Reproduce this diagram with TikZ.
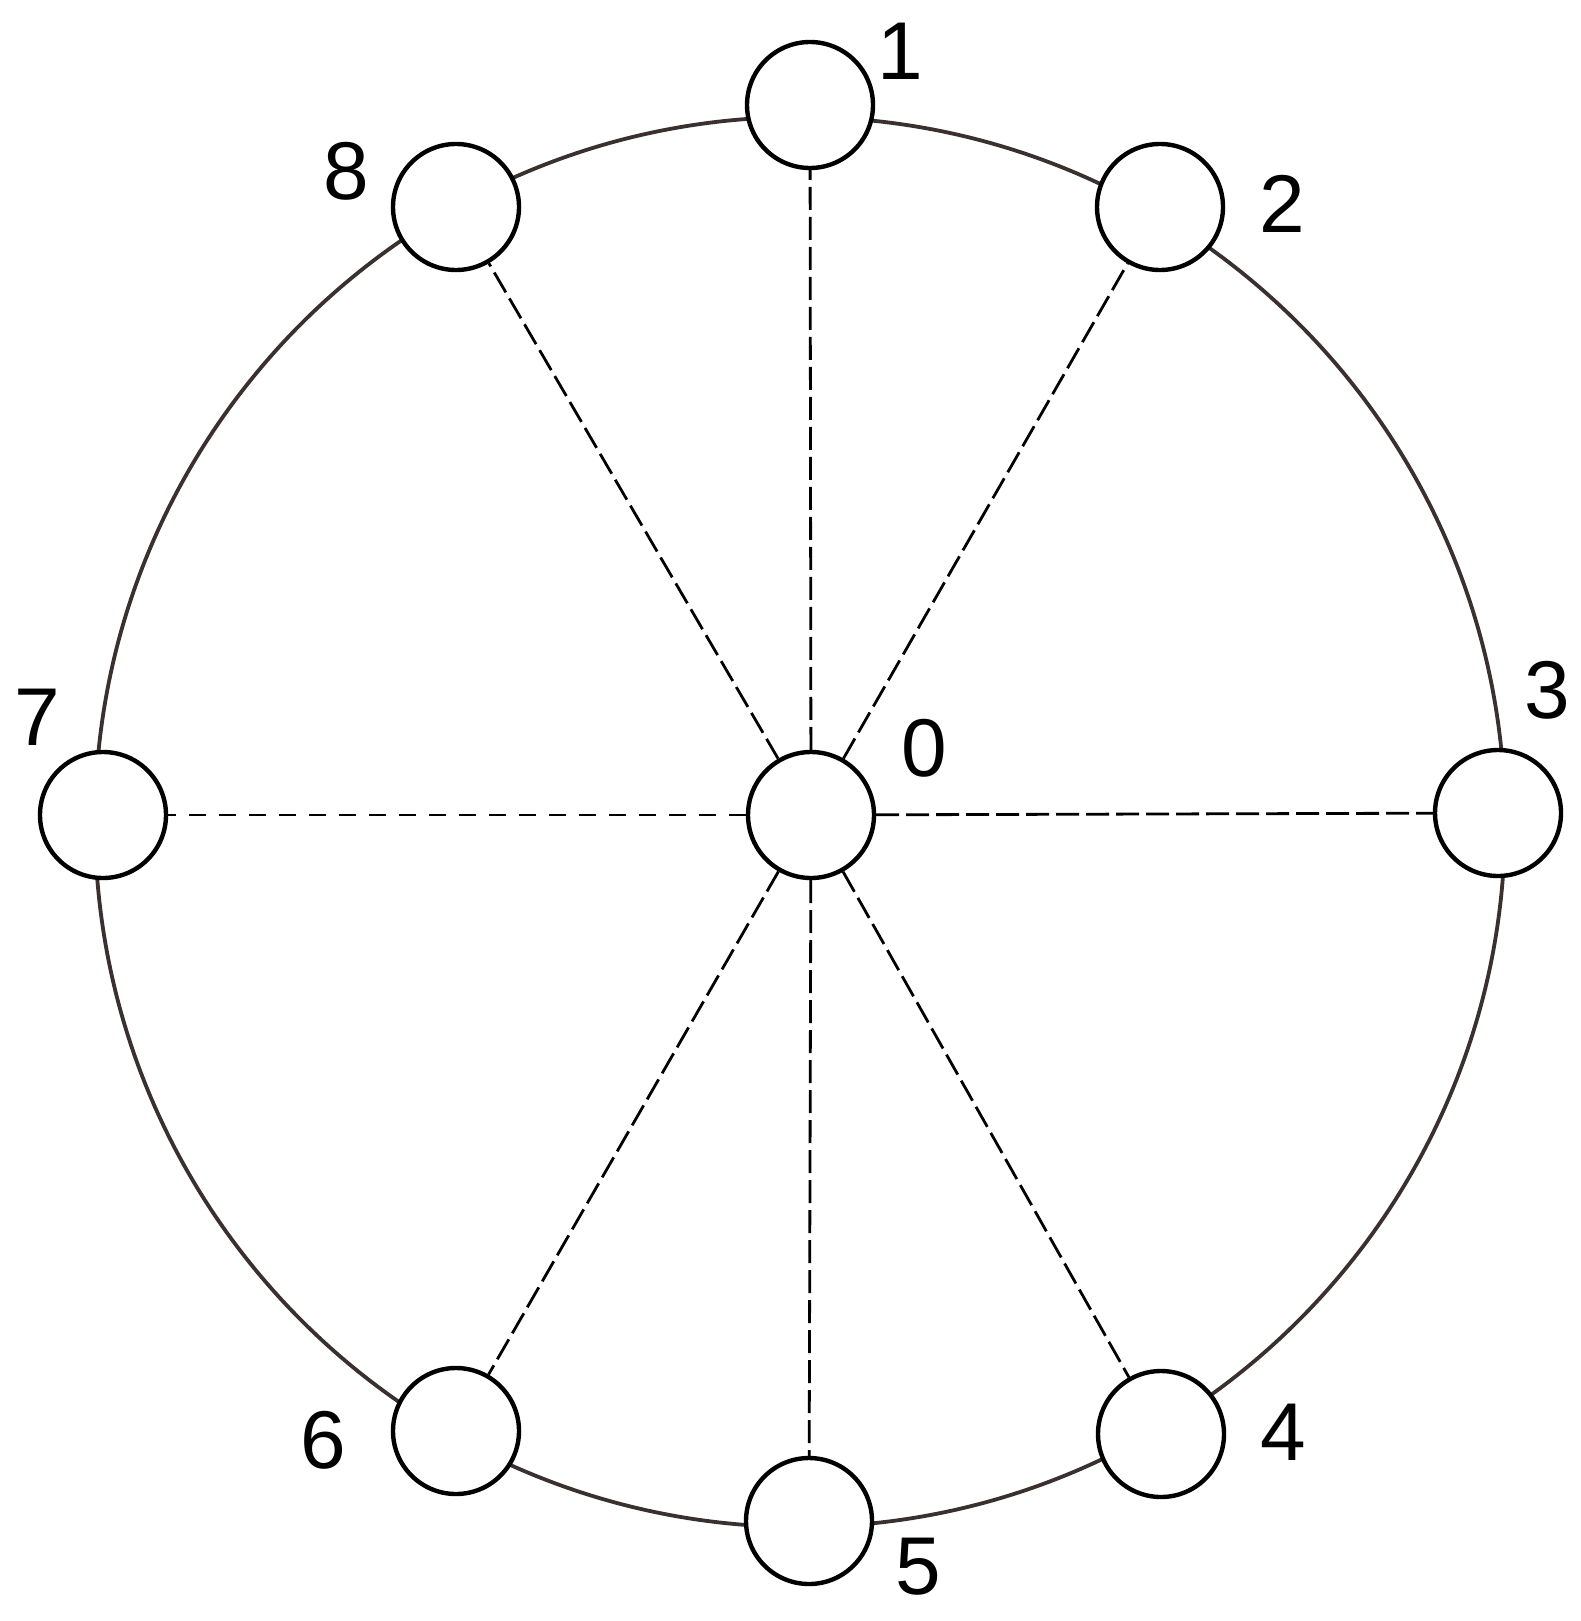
\documentclass[tikz,border=0pt]{standalone}
\usepackage{fontspec}
\setmainfont{Liberation Sans}
\definecolor{rimcol}{RGB}{58,48,48}
\begin{document}
\begin{tikzpicture}[x=0.5pt,y=-0.5pt,
  station/.style={circle,draw=black,line width=2.2pt,fill=white,minimum size=63pt,inner sep=0pt},
  lbl/.style={inner sep=0pt,font=\fontsize{41}{41}\selectfont},
  spoke/.style={draw=black,line width=1.4pt,dash pattern=on 11.5pt off 3.5pt},
  spokeb/.style={draw=black,line width=1.4pt,dash pattern=on 8.5pt off 6.5pt}]
\useasboundingbox[fill=white] (0,0) rectangle (1580,1621);
\coordinate (c) at (800,822);
\draw[rimcol,line width=1.9pt] (c) circle[radius=352.5pt];
\node[station] (n0) at (811,815) {};
\node[station] (n1) at (810,105) {};
\node[station] (n2) at (1160,207) {};
\node[station] (n3) at (1498,813) {};
\node[station] (n4) at (1161,1434) {};
\node[station] (n5) at (809,1521) {};
\node[station] (n6) at (456,1431) {};
\node[station] (n7) at (103,815) {};
\node[station] (n8) at (456,207) {};
\draw[spoke] (n0) -- (n1);
\draw[spoke] (n0) -- (n2);
\draw[spoke] (n0) -- (n3);
\draw[spoke] (n0) -- (n4);
\draw[spoke] (n0) -- (n5);
\draw[spoke] (n0) -- (n6);
\draw[spokeb] (n0) -- (n7);
\draw[spoke] (n0) -- (n8);
\node[lbl] (l0) at (924,748) {0};
\node[lbl] (l1) at (900,51) {1};
\node[lbl] (l2) at (1282,204) {2};
\node[lbl] (l3) at (1547,690) {3};
\node[lbl] (l4) at (1283,1432) {4};
\node[lbl] (l5) at (918,1567) {5};
\node[lbl] (l6) at (323,1440) {6};
\node[lbl] (l7) at (37,717) {7};
\node[lbl] (l8) at (346,171) {8};
\end{tikzpicture}
\end{document}
